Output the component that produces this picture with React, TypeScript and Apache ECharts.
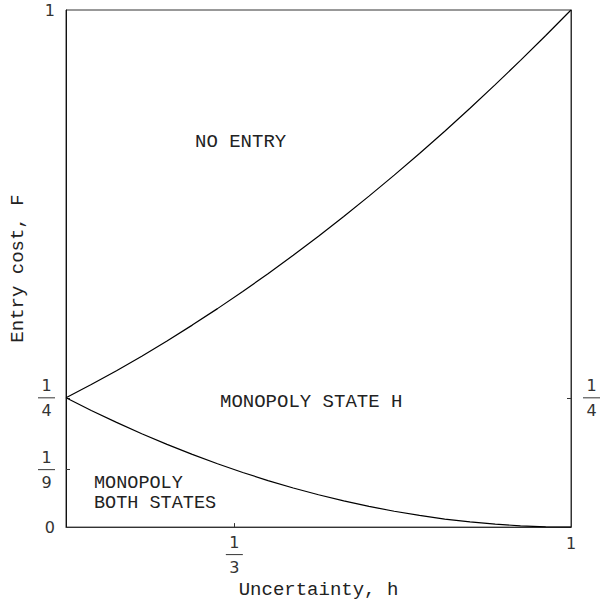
import React, { useEffect, useRef } from 'react';
import * as echarts from 'echarts';

// Uncertainty h (x) sample points
const hValues = [0, 0.05, 0.1, 0.15, 0.2, 0.25, 0.3, 0.35, 0.4, 0.45, 0.5, 0.55, 0.6, 0.65, 0.7, 0.75, 0.8, 0.85, 0.9, 0.95, 1];
// Upper boundary (NO ENTRY / MONOPOLY STATE H)
const noEntryBoundary = [0.25, 0.2756, 0.3025, 0.3306, 0.36, 0.3906, 0.4225, 0.4556, 0.49, 0.5256, 0.5625, 0.6006, 0.64, 0.6806, 0.7225, 0.7656, 0.81, 0.8556, 0.9025, 0.9506, 1];
// Lower boundary (MONOPOLY STATE H / MONOPOLY BOTH STATES)
const bothStatesBoundary = [0.25, 0.2256, 0.2025, 0.1806, 0.16, 0.1406, 0.1225, 0.1056, 0.09, 0.0756, 0.0625, 0.0506, 0.04, 0.0306, 0.0225, 0.0156, 0.01, 0.0056, 0.0025, 0.0006, 0];

const xTickValues = [0, 1 / 3, 1];
const xTickLabels = ['', '1/3', '1'];
const yTickValues = [0, 1 / 9, 1 / 4, 1];
const yTickLabels = ['0', '1/9', '1/4', '1'];
const rightTickValues = [1 / 4];
const rightTickLabels = ['1/4'];

const regionNoEntry = 'NO ENTRY';
const regionStateH = 'MONOPOLY STATE H';
const regionBothLine1 = 'MONOPOLY';
const regionBothLine2 = 'BOTH STATES';

const xName = 'Uncertainty, h';
const yName = 'Entry cost, F';

const MONO = '"Liberation Mono", "Courier New", monospace';
const SANS = '"DejaVu Sans", sans-serif';
const INK = '#222';

function makeFormatter(values: number[], labels: string[], plainStyle?: string) {
  return (v: number) => {
    let idx = -1;
    values.forEach((t, i) => {
      if (Math.abs(t - v) < 1e-6) idx = i;
    });
    if (idx < 0) return '';
    const lab = labels[idx];
    if (lab.indexOf('/') >= 0) {
      const [n, d] = lab.split('/');
      return `{n|${n}}\n{bar| }\n{n|${d}}`;
    }
    if (!lab) return '';
    return plainStyle ? `{${plainStyle}|${lab}}` : lab;
  };
}

const rich = {
  n: { fontFamily: SANS, fontSize: 16, lineHeight: 16, width: 17, align: 'center', color: '#333' },
  bar: { width: 17, height: 1, lineHeight: 9, backgroundColor: '#333', fontSize: 4 },
  p: { fontFamily: SANS, fontSize: 16, lineHeight: 16, padding: [3, 0, 0, 0], color: '#333' },
};

export default function App() {
  const ref = useRef<HTMLDivElement>(null);
  useEffect(() => {
    if (!ref.current) return;
    const chart = echarts.init(ref.current, undefined, { renderer: 'svg' });
    const upper = hValues.map((h, i) => [h, noEntryBoundary[i]]);
    const lower = hValues.map((h, i) => [h, bothStatesBoundary[i]]);
    const axisLineStyle = { color: '#333', width: 1 };
    chart.setOption({
      animation: false,
      backgroundColor: '#fff',
      grid: { left: 66, top: 10, width: 509, height: 523, show: true, borderColor: '#333', borderWidth: 1, backgroundColor: 'transparent' },
      xAxis: {
        type: 'value', min: 0, max: 1,
        name: xName, nameLocation: 'middle', nameGap: 47,
        nameTextStyle: { fontFamily: MONO, fontSize: 19, color: INK },
        axisLine: { show: true, lineStyle: axisLineStyle },
        splitLine: { show: false },
        axisTick: { show: true, inside: true, length: 4, customValues: [1 / 3], lineStyle: axisLineStyle },
        axisLabel: {
          customValues: xTickValues, margin: 7,
          formatter: makeFormatter(xTickValues, xTickLabels, 'p'), rich,
          fontFamily: SANS, fontSize: 16, color: '#333',
        },
      },
      yAxis: [
        {
          type: 'value', min: 0, max: 1, position: 'left',
          name: yName, nameLocation: 'middle', nameGap: 39,
          nameTextStyle: { fontFamily: MONO, fontSize: 19, color: INK },
          axisLine: { show: true, lineStyle: { color: '#111', width: 1 } },
          splitLine: { show: false },
          axisTick: { show: true, inside: true, length: 4, customValues: [1 / 9, 1 / 4], lineStyle: axisLineStyle },
          axisLabel: {
            customValues: yTickValues, margin: 11,
            formatter: makeFormatter(yTickValues, yTickLabels), rich,
            fontFamily: SANS, fontSize: 16, color: '#333',
          },
        },
        {
          type: 'value', min: 0, max: 1, position: 'right',
          axisLine: { show: true, lineStyle: axisLineStyle },
          splitLine: { show: false },
          axisTick: { show: true, inside: true, length: 4, customValues: rightTickValues, lineStyle: axisLineStyle },
          axisLabel: {
            customValues: rightTickValues, margin: 12,
            formatter: makeFormatter(rightTickValues, rightTickLabels), rich,
            fontFamily: SANS, fontSize: 16, color: '#333',
          },
        },
      ],
      series: [
        {
          type: 'line', data: upper, showSymbol: false, smooth: false,
          lineStyle: { color: '#000', width: 1.2 }, silent: true,
        },
        {
          type: 'line', data: lower, showSymbol: false, smooth: false,
          lineStyle: { color: '#000', width: 1.2 }, silent: true,
        },
      ],
      graphic: [
        { type: 'text', x: 195, y: 141.5, style: { text: regionNoEntry, font: `19px ${MONO}`, fill: INK, verticalAlign: 'middle' } },
        { type: 'text', x: 220, y: 402, style: { text: regionStateH, font: `19px ${MONO}`, fill: INK, verticalAlign: 'middle' } },
        { type: 'text', x: 94, y: 483, style: { text: regionBothLine1, font: `18.5px ${MONO}`, fill: INK, verticalAlign: 'middle' } },
        { type: 'text', x: 94, y: 503, style: { text: regionBothLine2, font: `18.5px ${MONO}`, fill: INK, verticalAlign: 'middle' } },
      ],
    });
    return () => chart.dispose();
  }, []);
  return <div ref={ref} style={{ position: 'fixed', left: 0, top: 0, width: 603, height: 604 }} />;
}
